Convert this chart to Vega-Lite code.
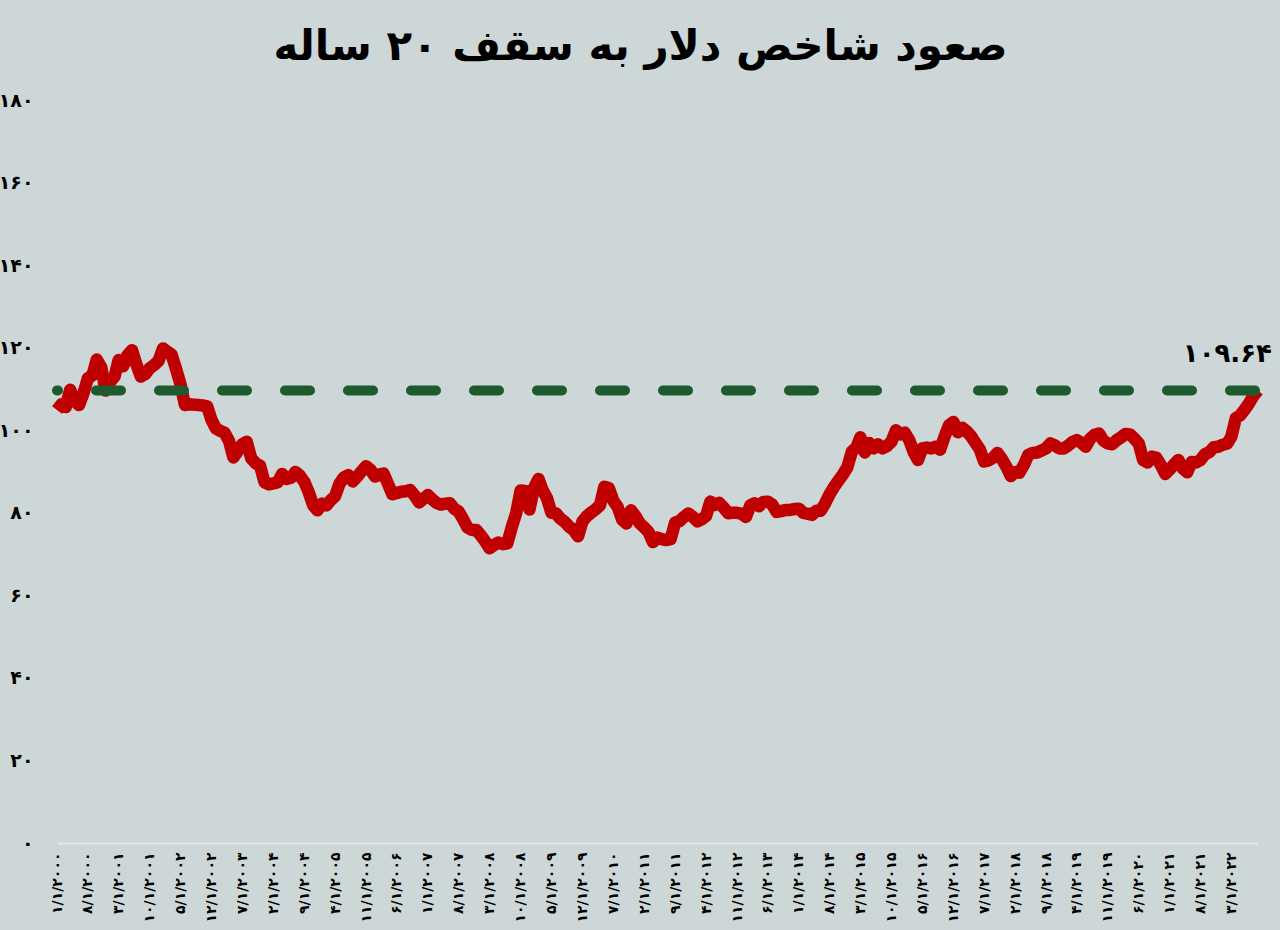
{
  "$schema": "https://vega.github.io/schema/vega-lite/v6.json",
  "width": 1201,
  "height": 743,
  "autosize": {"type": "none"},
  "padding": {"left": 57, "top": 100, "right": 22, "bottom": 87},
  "background": "#cdd7d8",
  "config": {
    "view": {"stroke": null},
    "axisX": {
      "labelOverlap": false,
      "labelFlush": false,
      "labelBound": false,
      "labelSeparation": 0,
      "labelAngle": -90,
      "labelFont": "DejaVu Sans",
      "labelFontSize": 14,
      "labelFontWeight": "bold",
      "labelColor": "#000000",
      "labelPadding": 9,
      "ticks": false,
      "grid": false,
      "domain": true,
      "domainColor": "#e3e8e8",
      "domainWidth": 2,
      "title": null
    },
    "axisY": {
      "labelOverlap": false,
      "labelFont": "DejaVu Sans",
      "labelFontSize": 19,
      "labelFontWeight": "bold",
      "labelColor": "#000000",
      "labelPadding": 24,
      "ticks": false,
      "grid": false,
      "domain": false,
      "title": null
    }
  },
  "title": {
    "text": "صعود شاخص دلار به سقف ۲۰ ساله",
    "font": "DejaVu Sans",
    "fontSize": 42,
    "fontWeight": "bold",
    "color": "#000000",
    "anchor": "middle",
    "dx": -17,
    "offset": 22
  },
  "datasets": {
    "dxy": [
      {"date":"2000-01-01","dxy":104.9},{"date":"2000-02-01","dxy":106.3},{"date":"2000-03-01","dxy":105.6},{"date":"2000-04-01","dxy":109.8},{"date":"2000-05-01","dxy":107.1},{"date":"2000-06-01","dxy":106.1},{"date":"2000-07-01","dxy":108.9},{"date":"2000-08-01","dxy":112.6},{"date":"2000-09-01","dxy":113.3},{"date":"2000-10-01","dxy":117.1},{"date":"2000-11-01","dxy":115.2},{"date":"2000-12-01","dxy":109.6},
      {"date":"2001-01-01","dxy":111.7},{"date":"2001-02-01","dxy":113.0},{"date":"2001-03-01","dxy":117.0},{"date":"2001-04-01","dxy":115.5},{"date":"2001-05-01","dxy":118.2},{"date":"2001-06-01","dxy":119.4},{"date":"2001-07-01","dxy":116.0},{"date":"2001-08-01","dxy":113.0},{"date":"2001-09-01","dxy":113.6},{"date":"2001-10-01","dxy":115.0},{"date":"2001-11-01","dxy":115.8},{"date":"2001-12-01","dxy":116.8},
      {"date":"2002-01-01","dxy":119.8},{"date":"2002-02-01","dxy":119.0},{"date":"2002-03-01","dxy":118.3},{"date":"2002-04-01","dxy":114.8},{"date":"2002-05-01","dxy":111.2},{"date":"2002-06-01","dxy":106.1},{"date":"2002-07-01","dxy":106.3},{"date":"2002-08-01","dxy":106.2},{"date":"2002-09-01","dxy":106.1},{"date":"2002-10-01","dxy":106.0},{"date":"2002-11-01","dxy":105.8},{"date":"2002-12-01","dxy":102.5},
      {"date":"2003-01-01","dxy":100.4},{"date":"2003-02-01","dxy":99.8},{"date":"2003-03-01","dxy":99.4},{"date":"2003-04-01","dxy":97.4},{"date":"2003-05-01","dxy":93.4},{"date":"2003-06-01","dxy":95.0},{"date":"2003-07-01","dxy":96.6},{"date":"2003-08-01","dxy":97.2},{"date":"2003-09-01","dxy":93.2},{"date":"2003-10-01","dxy":92.0},{"date":"2003-11-01","dxy":91.4},{"date":"2003-12-01","dxy":87.4},
      {"date":"2004-01-01","dxy":86.9},{"date":"2004-02-01","dxy":87.1},{"date":"2004-03-01","dxy":87.4},{"date":"2004-04-01","dxy":89.4},{"date":"2004-05-01","dxy":88.2},{"date":"2004-06-01","dxy":88.5},{"date":"2004-07-01","dxy":89.9},{"date":"2004-08-01","dxy":89.0},{"date":"2004-09-01","dxy":87.5},{"date":"2004-10-01","dxy":85.0},{"date":"2004-11-01","dxy":81.8},{"date":"2004-12-01","dxy":80.6},
      {"date":"2005-01-01","dxy":82.2},{"date":"2005-02-01","dxy":81.8},{"date":"2005-03-01","dxy":83.0},{"date":"2005-04-01","dxy":84.0},{"date":"2005-05-01","dxy":87.0},{"date":"2005-06-01","dxy":88.6},{"date":"2005-07-01","dxy":89.1},{"date":"2005-08-01","dxy":87.6},{"date":"2005-09-01","dxy":88.8},{"date":"2005-10-01","dxy":90.1},{"date":"2005-11-01","dxy":91.3},{"date":"2005-12-01","dxy":90.4},
      {"date":"2006-01-01","dxy":88.8},{"date":"2006-02-01","dxy":89.3},{"date":"2006-03-01","dxy":89.5},{"date":"2006-04-01","dxy":87.0},{"date":"2006-05-01","dxy":84.5},{"date":"2006-06-01","dxy":84.8},{"date":"2006-07-01","dxy":85.1},{"date":"2006-08-01","dxy":85.2},{"date":"2006-09-01","dxy":85.5},{"date":"2006-10-01","dxy":84.2},{"date":"2006-11-01","dxy":82.5},{"date":"2006-12-01","dxy":83.4},
      {"date":"2007-01-01","dxy":84.3},{"date":"2007-02-01","dxy":83.2},{"date":"2007-03-01","dxy":82.4},{"date":"2007-04-01","dxy":82.0},{"date":"2007-05-01","dxy":82.2},{"date":"2007-06-01","dxy":82.3},{"date":"2007-07-01","dxy":81.0},{"date":"2007-08-01","dxy":80.3},{"date":"2007-09-01","dxy":78.4},{"date":"2007-10-01","dxy":76.4},{"date":"2007-11-01","dxy":75.8},{"date":"2007-12-01","dxy":75.8},
      {"date":"2008-01-01","dxy":74.5},{"date":"2008-02-01","dxy":73.0},{"date":"2008-03-01","dxy":71.4},{"date":"2008-04-01","dxy":72.2},{"date":"2008-05-01","dxy":72.8},{"date":"2008-06-01","dxy":72.4},{"date":"2008-07-01","dxy":72.6},{"date":"2008-08-01","dxy":76.5},{"date":"2008-09-01","dxy":80.0},{"date":"2008-10-01","dxy":85.4},{"date":"2008-11-01","dxy":85.3},{"date":"2008-12-01","dxy":80.8},
      {"date":"2009-01-01","dxy":86.0},{"date":"2009-02-01","dxy":88.2},{"date":"2009-03-01","dxy":85.5},{"date":"2009-04-01","dxy":83.5},{"date":"2009-05-01","dxy":80.0},{"date":"2009-06-01","dxy":79.9},{"date":"2009-07-01","dxy":78.6},{"date":"2009-08-01","dxy":77.8},{"date":"2009-09-01","dxy":76.6},{"date":"2009-10-01","dxy":75.8},{"date":"2009-11-01","dxy":74.3},{"date":"2009-12-01","dxy":77.9},
      {"date":"2010-01-01","dxy":79.2},{"date":"2010-02-01","dxy":80.1},{"date":"2010-03-01","dxy":80.8},{"date":"2010-04-01","dxy":81.8},{"date":"2010-05-01","dxy":86.3},{"date":"2010-06-01","dxy":86.0},{"date":"2010-07-01","dxy":83.0},{"date":"2010-08-01","dxy":81.4},{"date":"2010-09-01","dxy":78.3},{"date":"2010-10-01","dxy":77.4},{"date":"2010-11-01","dxy":80.6},{"date":"2010-12-01","dxy":79.2},
      {"date":"2011-01-01","dxy":77.4},{"date":"2011-02-01","dxy":76.4},{"date":"2011-03-01","dxy":75.4},{"date":"2011-04-01","dxy":72.9},{"date":"2011-05-01","dxy":74.0},{"date":"2011-06-01","dxy":73.6},{"date":"2011-07-01","dxy":73.4},{"date":"2011-08-01","dxy":73.6},{"date":"2011-09-01","dxy":77.6},{"date":"2011-10-01","dxy":78.0},{"date":"2011-11-01","dxy":79.0},{"date":"2011-12-01","dxy":79.8},
      {"date":"2012-01-01","dxy":79.0},{"date":"2012-02-01","dxy":77.9},{"date":"2012-03-01","dxy":78.4},{"date":"2012-04-01","dxy":79.2},{"date":"2012-05-01","dxy":82.7},{"date":"2012-06-01","dxy":81.9},{"date":"2012-07-01","dxy":82.4},{"date":"2012-08-01","dxy":81.2},{"date":"2012-09-01","dxy":79.9},{"date":"2012-10-01","dxy":80.0},{"date":"2012-11-01","dxy":80.0},{"date":"2012-12-01","dxy":79.8},
      {"date":"2013-01-01","dxy":79.0},{"date":"2013-02-01","dxy":81.8},{"date":"2013-03-01","dxy":82.3},{"date":"2013-04-01","dxy":81.6},{"date":"2013-05-01","dxy":82.6},{"date":"2013-06-01","dxy":82.7},{"date":"2013-07-01","dxy":82.0},{"date":"2013-08-01","dxy":80.2},{"date":"2013-09-01","dxy":80.4},{"date":"2013-10-01","dxy":80.7},{"date":"2013-11-01","dxy":80.7},{"date":"2013-12-01","dxy":80.9},
      {"date":"2014-01-01","dxy":81.0},{"date":"2014-02-01","dxy":80.0},{"date":"2014-03-01","dxy":79.8},{"date":"2014-04-01","dxy":79.5},{"date":"2014-05-01","dxy":80.5},{"date":"2014-06-01","dxy":80.5},{"date":"2014-07-01","dxy":82.3},{"date":"2014-08-01","dxy":84.5},{"date":"2014-09-01","dxy":86.3},{"date":"2014-10-01","dxy":87.8},{"date":"2014-11-01","dxy":89.3},{"date":"2014-12-01","dxy":91.0},
      {"date":"2015-01-01","dxy":94.8},{"date":"2015-02-01","dxy":95.8},{"date":"2015-03-01","dxy":98.3},{"date":"2015-04-01","dxy":94.6},{"date":"2015-05-01","dxy":96.9},{"date":"2015-06-01","dxy":95.6},{"date":"2015-07-01","dxy":96.6},{"date":"2015-08-01","dxy":95.6},{"date":"2015-09-01","dxy":96.2},{"date":"2015-10-01","dxy":97.2},{"date":"2015-11-01","dxy":100.0},{"date":"2015-12-01","dxy":99.0},
      {"date":"2016-01-01","dxy":99.4},{"date":"2016-02-01","dxy":97.6},{"date":"2016-03-01","dxy":94.8},{"date":"2016-04-01","dxy":92.8},{"date":"2016-05-01","dxy":95.6},{"date":"2016-06-01","dxy":95.8},{"date":"2016-07-01","dxy":95.6},{"date":"2016-08-01","dxy":96.0},{"date":"2016-09-01","dxy":95.3},{"date":"2016-10-01","dxy":98.4},{"date":"2016-11-01","dxy":101.2},{"date":"2016-12-01","dxy":102.0},
      {"date":"2017-01-01","dxy":99.5},{"date":"2017-02-01","dxy":100.6},{"date":"2017-03-01","dxy":99.8},{"date":"2017-04-01","dxy":98.6},{"date":"2017-05-01","dxy":97.0},{"date":"2017-06-01","dxy":95.4},{"date":"2017-07-01","dxy":92.4},{"date":"2017-08-01","dxy":92.7},{"date":"2017-09-01","dxy":93.3},{"date":"2017-10-01","dxy":94.5},{"date":"2017-11-01","dxy":93.0},{"date":"2017-12-01","dxy":91.2},
      {"date":"2018-01-01","dxy":88.9},{"date":"2018-02-01","dxy":89.9},{"date":"2018-03-01","dxy":89.7},{"date":"2018-04-01","dxy":91.6},{"date":"2018-05-01","dxy":94.0},{"date":"2018-06-01","dxy":94.5},{"date":"2018-07-01","dxy":94.6},{"date":"2018-08-01","dxy":95.1},{"date":"2018-09-01","dxy":95.6},{"date":"2018-10-01","dxy":96.8},{"date":"2018-11-01","dxy":96.3},{"date":"2018-12-01","dxy":95.6},
      {"date":"2019-01-01","dxy":95.6},{"date":"2019-02-01","dxy":96.3},{"date":"2019-03-01","dxy":97.1},{"date":"2019-04-01","dxy":97.6},{"date":"2019-05-01","dxy":97.0},{"date":"2019-06-01","dxy":96.0},{"date":"2019-07-01","dxy":97.9},{"date":"2019-08-01","dxy":98.9},{"date":"2019-09-01","dxy":99.2},{"date":"2019-10-01","dxy":97.5},{"date":"2019-11-01","dxy":96.8},{"date":"2019-12-01","dxy":96.6},
      {"date":"2020-01-01","dxy":97.6},{"date":"2020-02-01","dxy":98.3},{"date":"2020-03-01","dxy":99.1},{"date":"2020-04-01","dxy":99.0},{"date":"2020-05-01","dxy":98.0},{"date":"2020-06-01","dxy":96.8},{"date":"2020-07-01","dxy":92.8},{"date":"2020-08-01","dxy":92.2},{"date":"2020-09-01","dxy":93.6},{"date":"2020-10-01","dxy":93.3},{"date":"2020-11-01","dxy":91.5},{"date":"2020-12-01","dxy":89.4},
      {"date":"2021-01-01","dxy":90.5},{"date":"2021-02-01","dxy":91.8},{"date":"2021-03-01","dxy":92.8},{"date":"2021-04-01","dxy":90.7},{"date":"2021-05-01","dxy":89.8},{"date":"2021-06-01","dxy":92.3},{"date":"2021-07-01","dxy":92.2},{"date":"2021-08-01","dxy":92.8},{"date":"2021-09-01","dxy":94.2},{"date":"2021-10-01","dxy":94.7},{"date":"2021-11-01","dxy":95.9},{"date":"2021-12-01","dxy":96.0},
      {"date":"2022-01-01","dxy":96.5},{"date":"2022-02-01","dxy":96.8},{"date":"2022-03-01","dxy":98.4},{"date":"2022-04-01","dxy":102.9},{"date":"2022-05-01","dxy":103.6},{"date":"2022-06-01","dxy":105.0},{"date":"2022-07-01","dxy":106.5},{"date":"2022-08-01","dxy":108.4},{"date":"2022-09-01","dxy":109.64}
    ],
    "latest": [
      {"date":"2022-09-01","dxy":109.64,"label":"۱۰۹.۶۴"}
    ]
  },
  "layer": [
    {
      "data": {"name": "dxy"},
      "mark": {"type": "line", "color": "#c00000", "strokeWidth": 12.5, "strokeJoin": "round", "strokeCap": "butt"},
      "encoding": {
        "x": {
          "field": "date",
          "type": "temporal",
          "scale": {"type": "utc", "nice": false},
          "axis": {
            "tickCount": 100,
            "values": [
              {"year":2000,"month":1,"date":1,"utc":true},{"year":2000,"month":8,"date":1,"utc":true},{"year":2001,"month":3,"date":1,"utc":true},{"year":2001,"month":10,"date":1,"utc":true},
              {"year":2002,"month":5,"date":1,"utc":true},{"year":2002,"month":12,"date":1,"utc":true},{"year":2003,"month":7,"date":1,"utc":true},{"year":2004,"month":2,"date":1,"utc":true},
              {"year":2004,"month":9,"date":1,"utc":true},{"year":2005,"month":4,"date":1,"utc":true},{"year":2005,"month":11,"date":1,"utc":true},{"year":2006,"month":6,"date":1,"utc":true},
              {"year":2007,"month":1,"date":1,"utc":true},{"year":2007,"month":8,"date":1,"utc":true},{"year":2008,"month":3,"date":1,"utc":true},{"year":2008,"month":10,"date":1,"utc":true},
              {"year":2009,"month":5,"date":1,"utc":true},{"year":2009,"month":12,"date":1,"utc":true},{"year":2010,"month":7,"date":1,"utc":true},{"year":2011,"month":2,"date":1,"utc":true},
              {"year":2011,"month":9,"date":1,"utc":true},{"year":2012,"month":4,"date":1,"utc":true},{"year":2012,"month":11,"date":1,"utc":true},{"year":2013,"month":6,"date":1,"utc":true},
              {"year":2014,"month":1,"date":1,"utc":true},{"year":2014,"month":8,"date":1,"utc":true},{"year":2015,"month":3,"date":1,"utc":true},{"year":2015,"month":10,"date":1,"utc":true},
              {"year":2016,"month":5,"date":1,"utc":true},{"year":2016,"month":12,"date":1,"utc":true},{"year":2017,"month":7,"date":1,"utc":true},{"year":2018,"month":2,"date":1,"utc":true},
              {"year":2018,"month":9,"date":1,"utc":true},{"year":2019,"month":4,"date":1,"utc":true},{"year":2019,"month":11,"date":1,"utc":true},{"year":2020,"month":6,"date":1,"utc":true},
              {"year":2021,"month":1,"date":1,"utc":true},{"year":2021,"month":8,"date":1,"utc":true},{"year":2022,"month":3,"date":1,"utc":true}
            ],
            "labelExpr": "replace(replace(replace(replace(replace(replace(replace(replace(replace(replace(utcFormat(datum.value,'%-m/%-d/%Y'),regexp('0','g'),'۰'),regexp('1','g'),'۱'),regexp('2','g'),'۲'),regexp('3','g'),'۳'),regexp('4','g'),'۴'),regexp('5','g'),'۵'),regexp('6','g'),'۶'),regexp('7','g'),'۷'),regexp('8','g'),'۸'),regexp('9','g'),'۹')",
            "labelOverlap": false
          }
        },
        "y": {
          "field": "dxy",
          "type": "quantitative",
          "scale": {"domain": [0, 180], "nice": false, "zero": true},
          "axis": {
            "values": [0, 20, 40, 60, 80, 100, 120, 140, 160, 180],
            "labelExpr": "replace(replace(replace(replace(replace(replace(replace(replace(replace(replace(datum.label,regexp('0','g'),'۰'),regexp('1','g'),'۱'),regexp('2','g'),'۲'),regexp('3','g'),'۳'),regexp('4','g'),'۴'),regexp('5','g'),'۵'),regexp('6','g'),'۶'),regexp('7','g'),'۷'),regexp('8','g'),'۸'),regexp('9','g'),'۹')"
          }
        }
      }
    },
    {
      "data": {"name": "latest"},
      "mark": {"type": "rule", "color": "#1d5a2e", "strokeWidth": 10, "strokeCap": "round", "strokeDash": [25, 38], "strokeDashOffset": -3},
      "encoding": {"y": {"field": "dxy", "type": "quantitative"}}
    },
    {
      "data": {"name": "latest"},
      "mark": {"type": "text", "font": "DejaVu Sans", "fontSize": 26, "fontWeight": "bold", "color": "#000000", "align": "right", "baseline": "middle", "dx": 14, "dy": -36},
      "encoding": {
        "x": {"field": "date", "type": "temporal"},
        "y": {"field": "dxy", "type": "quantitative"},
        "text": {"field": "label"}
      }
    }
  ]
}
